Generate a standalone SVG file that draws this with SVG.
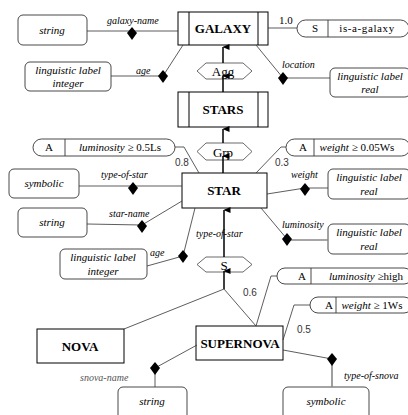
<svg xmlns="http://www.w3.org/2000/svg" width="408" height="415" viewBox="0 0 408 415">
<defs>
<style>
.ent{fill:#fff;stroke:#000;stroke-width:1}
.att{fill:#fff;stroke:#333;stroke-width:0.9}
.ln{fill:none;stroke:#333;stroke-width:0.8}
.gl{fill:none;stroke:#888;stroke-width:1.6}
.ar{fill:none;stroke:#000;stroke-width:1.5}
.hx{fill:#fff;stroke:#444;stroke-width:0.8}
.dm{fill:#000}
.b{font-family:"Liberation Serif",serif;font-weight:bold;font-size:13px;text-anchor:middle;fill:#000}
.i{font-family:"Liberation Serif",serif;font-style:italic;font-size:11px;text-anchor:middle;fill:#000}
.l{font-family:"Liberation Serif",serif;font-style:italic;font-size:10px;fill:#000}
.s{font-family:"Liberation Serif",serif;font-size:11px;text-anchor:middle;fill:#000}
.n{font-family:"Liberation Sans",sans-serif;font-size:10px;fill:#333}
</style>
<marker id="ah" markerWidth="6" markerHeight="7" refX="3" refY="0.5" orient="auto-start-reverse" markerUnits="userSpaceOnUse" viewBox="0 0 6 7">
<path d="M0,7 L3,0 L6,7 Z" fill="#000"/>
</marker>
</defs>

<g id="GALAXY">
<rect class="ent" x="178" y="12" width="90" height="33"/>
<line class="ent" x1="189" y1="12" x2="189" y2="45"/>
<line class="ent" x1="258" y1="12" x2="258" y2="45"/>
<text class="b" x="223" y="33">GALAXY</text>
</g>
<g id="Agg">
<polygon class="hx" points="197,71 206,63 243,63 252,71 243,79 206,79"/>
<text class="s" x="223" y="76" style="font-size:13px">Agg</text>
</g>
<g id="STARS">
<rect class="ent" x="178" y="92" width="90" height="35"/>
<line class="ent" x1="189" y1="92" x2="189" y2="127"/>
<line class="ent" x1="258" y1="92" x2="258" y2="127"/>
<text class="b" x="223" y="114">STARS</text>
</g>
<g id="Grp">
<polygon class="hx" points="197,151.5 206,143 243,143 252,151.5 243,160 206,160"/>
<text class="s" x="223" y="157" style="font-size:13px">Grp</text>
</g>
<g id="STAR">
<rect class="ent" x="182" y="173" width="85" height="35"/>
<text class="b" x="224" y="195">STAR</text>
</g>
<g id="S">
<polygon class="hx" points="197,264.5 206,257 243,257 252,264.5 243,272 206,272"/>
<text class="s" x="224" y="270" style="font-size:13px">S</text>
</g>
<g id="NOVA">
<rect class="ent" x="37" y="329" width="87" height="34"/>
<text class="b" x="80" y="351">NOVA</text>
</g>
<g id="SUPERNOVA">
<rect class="ent" x="196" y="326" width="87" height="34"/>
<text class="b" x="240" y="348">SUPERNOVA</text>
</g>

<g id="attr-galaxy-name">
<rect class="att" x="18" y="15" width="69" height="30" rx="5"/>
<text class="i" x="52" y="34">string</text>
</g>
<g id="attr-galaxy-age">
<rect class="att" x="25" y="62" width="86" height="29" rx="5"/>
<text class="i" x="68" y="74">linguistic label</text>
<text class="i" x="68" y="87">integer</text>
</g>
<g id="attr-is-a-galaxy">
<rect class="att" x="297" y="20" width="112" height="17" rx="8.5"/>
<line class="att" x1="328" y1="20" x2="328" y2="37"/>
<text class="s" x="315" y="32">S</text>
<text class="s" x="367" y="32" style="letter-spacing:0.6px">is-a-galaxy</text>
</g>
<g id="attr-location">
<rect class="att" x="330" y="68" width="80" height="29" rx="5"/>
<text class="i" x="370" y="80">linguistic label</text>
<text class="i" x="370" y="93">real</text>
</g>
<g id="attr-lum-star">
<rect class="att" x="33" y="139" width="142" height="17" rx="8.5"/>
<line class="att" x1="65" y1="139" x2="65" y2="156"/>
<text class="s" x="49" y="151">A</text>
<text class="s" x="120" y="151"><tspan font-style="italic">luminosity</tspan> ≥ 0.5Ls</text>
</g>
<g id="attr-weight-star">
<rect class="att" x="286" y="139" width="124" height="17" rx="8.5"/>
<line class="att" x1="314" y1="139" x2="314" y2="156"/>
<text class="s" x="303" y="151">A</text>
<text class="s" x="357" y="151"><tspan font-style="italic">weight</tspan> ≥ 0.05Ws</text>
</g>
<g id="attr-type-of-star">
<rect class="att" x="9" y="169" width="70" height="29" rx="5"/>
<text class="i" x="44" y="187">symbolic</text>
</g>
<g id="attr-star-name">
<rect class="att" x="18" y="208" width="69" height="29" rx="5"/>
<text class="i" x="52" y="226">string</text>
</g>
<g id="attr-star-age">
<rect class="att" x="60" y="249" width="87" height="30" rx="5"/>
<text class="i" x="103" y="261">linguistic label</text>
<text class="i" x="103" y="275">integer</text>
</g>
<g id="attr-weight">
<rect class="att" x="328" y="169" width="82" height="30" rx="5"/>
<text class="i" x="369" y="181">linguistic label</text>
<text class="i" x="369" y="195">real</text>
</g>
<g id="attr-luminosity">
<rect class="att" x="328" y="224" width="82" height="30" rx="5"/>
<text class="i" x="369" y="236">linguistic label</text>
<text class="i" x="369" y="250">real</text>
</g>
<g id="attr-lum-snova">
<rect class="att" x="277" y="268" width="135" height="16" rx="8"/>
<line class="att" x1="311" y1="268" x2="311" y2="284"/>
<text class="s" x="302" y="280">A</text>
<text class="s" x="366" y="280"><tspan font-style="italic">luminosity</tspan> ≥high</text>
</g>
<g id="attr-weight-snova">
<rect class="att" x="310" y="297" width="102" height="16" rx="8"/>
<line class="att" x1="336" y1="297" x2="336" y2="313"/>
<text class="s" x="329" y="309">A</text>
<text class="s" x="372" y="309"><tspan font-style="italic">weight</tspan> ≥ 1Ws</text>
</g>
<g id="attr-snova-name">
<rect class="att" x="118" y="387" width="69" height="34" rx="5"/>
<text class="i" x="152" y="405">string</text>
</g>
<g id="attr-type-of-snova">
<rect class="att" x="283" y="387" width="86" height="34" rx="5"/>
<text class="i" x="326" y="405">symbolic</text>
</g>

<g id="connectors">
<!-- hierarchy arrows -->
<line class="ar" x1="223" y1="63" x2="223" y2="47" marker-end="url(#ah)"/>
<line class="ar" x1="223" y1="92" x2="223" y2="76" marker-end="url(#ah)"/>
<line class="ar" x1="223" y1="143" x2="223" y2="129" marker-end="url(#ah)"/>
<line class="ar" x1="223" y1="173" x2="223" y2="156" marker-end="url(#ah)"/>
<line class="ar" x1="224" y1="257" x2="224" y2="210" marker-end="url(#ah)"/>
<line class="ar" x1="224" y1="289" x2="224" y2="271" marker-end="url(#ah)"/>
<polyline class="ln" points="124,329 224,289 256,326"/>
<!-- GALAXY attributes -->
<line class="ln" x1="87" y1="31" x2="178" y2="31"/>
<polyline class="ln" points="111,76 163,76 183,45"/>
<polyline class="ln" points="268,28 297,28"/>
<polyline class="ln" points="256,45 283,78 330,78"/>
<!-- STAR attributes -->
<polyline class="ln" points="175,147 184,147 199,173"/>
<line class="ln" x1="79" y1="186" x2="182" y2="186"/>
<polyline class="ln" points="87,224 142,225 182,201"/>
<polyline class="ln" points="147,266 183,256 195,208"/>
<polyline class="ln" points="286,147 281,147 256,173"/>
<polyline class="ln" points="267,194 305,188 328,188"/>
<polyline class="ln" points="261,208 287,239"/>
<line class="gl" x1="287" y1="240" x2="328" y2="240"/>
<!-- SUPERNOVA attributes -->
<polyline class="ln" points="277,276 271,276 256,326"/>
<polyline class="ln" points="310,305 294,305 283,340"/>
<polyline class="ln" points="283,350 332,359"/>
<line class="gl" x1="332" y1="360" x2="332" y2="387"/>
<polyline class="ln" points="197,345 155,368"/>
<line class="ln" x1="155" y1="368" x2="155" y2="387"/>
<!-- diamonds -->
<path class="dm" d="M132,27 L137,33 L132,40 L127,33 Z"/>
<path class="dm" d="M163,70 L168,76 L163,83 L158,76 Z"/>
<path class="dm" d="M283,72 L288,78 L283,85 L278,78 Z"/>
<path class="dm" d="M133,182 L138,188 L133,195 L128,188 Z"/>
<path class="dm" d="M142,220 L147,226 L142,233 L137,226 Z"/>
<path class="dm" d="M183,250 L188,256 L183,263 L178,256 Z"/>
<path class="dm" d="M305,183 L310,189 L305,196 L300,189 Z"/>
<path class="dm" d="M287,233 L292,239 L287,246 L282,239 Z"/>
<path class="dm" d="M332,353 L337,359 L332,366 L327,359 Z"/>
<path class="dm" d="M155,362 L160,368 L155,375 L150,368 Z"/>
</g>

<g id="labels">
<text class="l" x="107" y="24">galaxy-name</text>
<text class="l" x="136" y="74">age</text>
<text class="s" x="279" y="24" style="text-anchor:start">1.0</text>
<text class="l" x="282" y="68">location</text>
<text class="n" x="175" y="166">0.8</text>
<text class="n" x="275" y="166">0.3</text>
<text class="l" x="101" y="178">type-of-star</text>
<text class="l" x="109" y="217">star-name</text>
<text class="l" x="150" y="256">age</text>
<text class="l" x="291" y="178">weight</text>
<text class="l" x="282" y="228">luminosity</text>
<text class="l" x="196" y="237">type-of-star</text>
<text class="n" x="243" y="296">0.6</text>
<text class="n" x="297" y="333">0.5</text>
<text class="l" x="344" y="379">type-of-snova</text>
<text class="l" x="80" y="381" style="fill:#555">snova-name</text>
</g>
</svg>
